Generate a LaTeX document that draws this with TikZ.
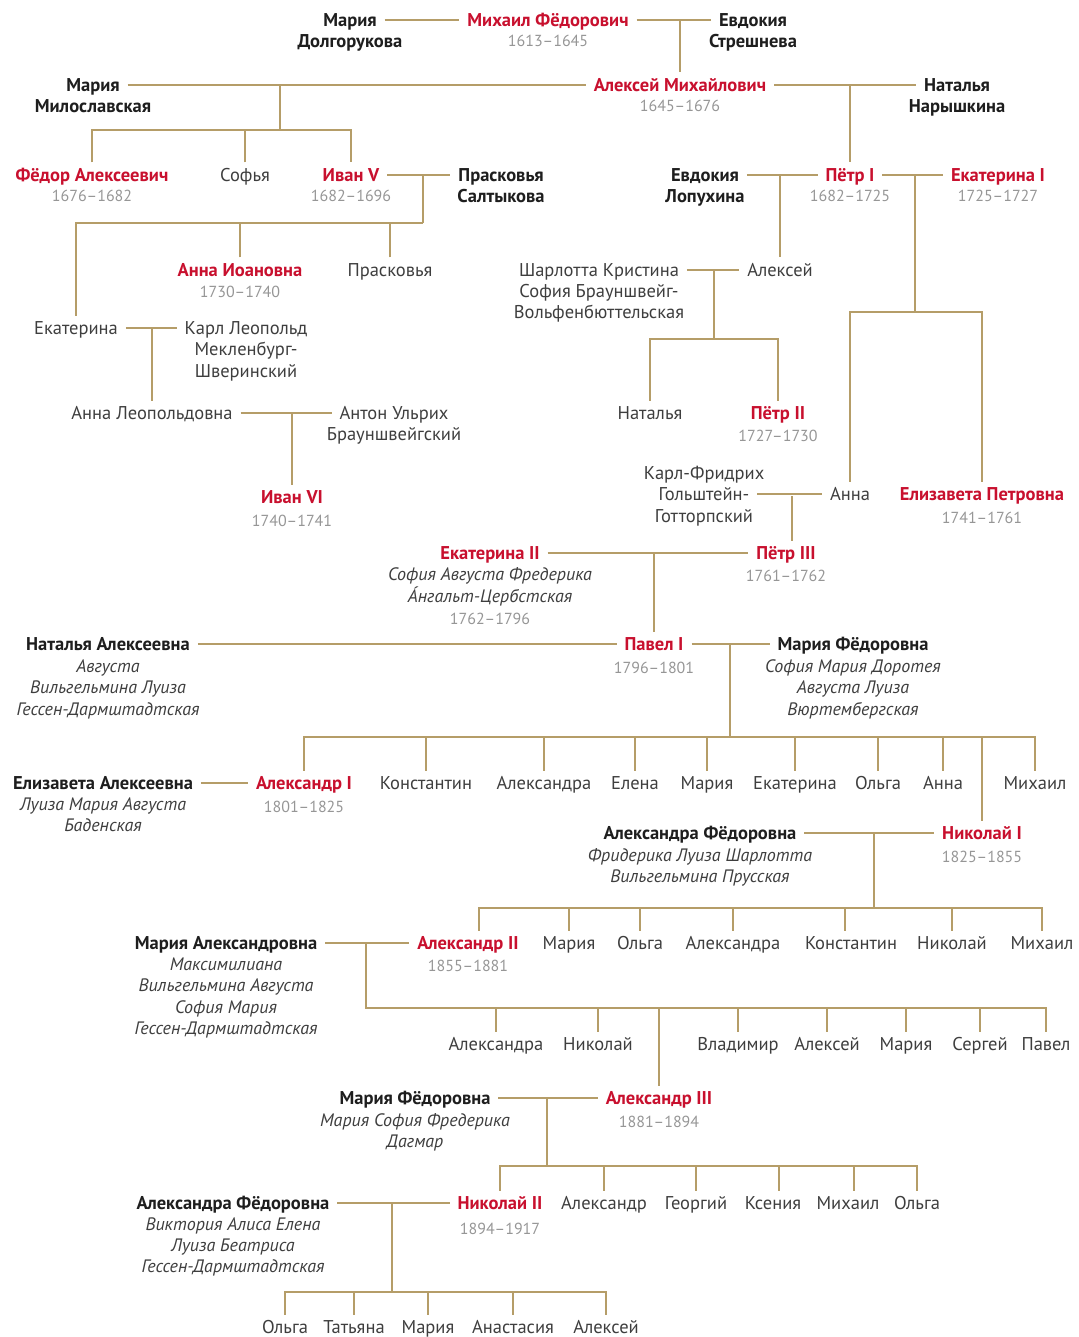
\documentclass[tikz,border=0pt]{standalone}
\usepackage{fontspec}
\setmainfont{PT Sans}
\usepackage{tikz}

\definecolor{tsarred}{RGB}{200,16,46}
\definecolor{gold}{RGB}{181,157,104}
\definecolor{ink}{RGB}{30,30,30}
\definecolor{soft}{RGB}{62,62,62}
\definecolor{years}{RGB}{150,150,150}

\tikzset{
  who/.style={inner xsep=8pt, inner ysep=6pt, text height=13pt, text depth=0pt, outer sep=0pt, text=soft, font=\fontsize{18.5}{21}\selectfont},
  tsar/.style={who, text=tsarred, font=\fontsize{18.5}{21}\selectfont\bfseries},
  spouse/.style={who, text=ink, font=\fontsize{18.5}{21}\selectfont\bfseries},
  kid/.style={who},
  reign/.style={inner sep=0pt, text height=12pt, text depth=0pt, text=years, font=\fontsize{16}{19}\selectfont},
  birth/.style={inner sep=0pt, text height=12pt, text depth=0pt, text=soft, font=\fontsize{18}{21}\selectfont\itshape},
  link/.style={draw=gold, line width=1.6pt}
}

\begin{document}
\begin{tikzpicture}[x=1pt, y=-1pt]
\useasboundingbox (0,0) rectangle (1078,1337);

% Михаил Фёдорович
\node[spouse] (mdol) at (350,20) {Мария};
\node[spouse] (mdol2) at (350,41) {Долгорукова};
\node[tsar] (mfed) at (548,20) {Михаил Фёдорович};
\node[reign] (mfedy) at (548,41) {1613–1645};
\node[spouse] (estr) at (753,20) {Евдокия};
\node[spouse] (estr2) at (753,41) {Стрешнева};

% Алексей Михайлович
\node[spouse] (mmil) at (93,85) {Мария};
\node[spouse] (mmil2) at (93,106) {Милославская};
\node[tsar] (amih) at (680,85) {Алексей Михайлович};
\node[reign] (amihy) at (680,106) {1645–1676};
\node[spouse] (nnar) at (957,85) {Наталья};
\node[spouse] (nnar2) at (957,106) {Нарышкина};

\node[tsar] (fedor) at (92,175) {Фёдор Алексеевич};
\node[reign] (fedory) at (92,196) {1676–1682};
\node[kid] (sofya) at (245,175) {Софья};
\node[tsar] (ivan5) at (351,175) {Иван V};
\node[reign] (ivan5y) at (351,196) {1682–1696};
\node[spouse] (psal) at (501,175) {Прасковья};
\node[spouse] (psal2) at (501,196) {Салтыкова};
\node[spouse] (elop) at (705,175) {Евдокия};
\node[spouse] (elop2) at (705,196) {Лопухина};
\node[tsar] (petr1) at (850,175) {Пётр I};
\node[reign] (petr1y) at (850,196) {1682–1725};
\node[tsar] (ekat1) at (998,175) {Екатерина I};
\node[reign] (ekat1y) at (998,196) {1725–1727};

\node[tsar] (aioan) at (240,270) {Анна Иоановна};
\node[reign] (aioany) at (240,292) {1730–1740};
\node[kid] (prask) at (390,270) {Прасковья};
\node[kid] (shar) at (599,270) {Шарлотта Кристина};
\node[kid] (shar2) at (599,291) {София Брауншвейг-};
\node[kid] (shar3) at (599,312) {Вольфенбюттельская};
\node[kid] (aleks) at (780,270) {Алексей};

\node[kid] (ekat) at (76,328) {Екатерина};
\node[kid] (karl) at (246,328) {Карл Леопольд};
\node[kid] (karl2) at (246,349) {Мекленбург-};
\node[kid] (karl3) at (246,371) {Шверинский};

\node[kid] (aleop) at (152,413) {Анна Леопольдовна};
\node[kid] (anton) at (394,413) {Антон Ульрих};
\node[kid] (anton2) at (394,434) {Брауншвейгский};
\node[kid] (natal) at (650,413) {Наталья};
\node[tsar] (petr2) at (778,413) {Пётр II};
\node[reign] (petr2y) at (778,435) {1727–1730};

\node[tsar] (ivan6) at (292,497) {Иван VI};
\node[reign] (ivan6y) at (292,520) {1740–1741};
\node[kid] (kfr) at (704,473) {Карл-Фридрих};
\node[kid] (kfr2) at (704,494) {Гольштейн-};
\node[kid] (kfr3) at (704,516) {Готторпский};
\node[kid] (anna) at (850,494) {Анна};
\node[tsar] (elizp) at (982,494) {Елизавета Петровна};
\node[reign] (elizpy) at (982,517) {1741–1761};

% Екатерина II и Пётр III
\node[tsar] (ekat2) at (490,553) {Екатерина II};
\node[birth] (ekat2b) at (490,574) {София Августа Фредерика};
\node[birth] (ekat2c) at (490,596) {А́нгальт-Цербстская};
\node[reign] (ekat2y) at (490,618) {1762–1796};
\node[tsar] (petr3) at (786,553) {Пётр III};
\node[reign] (petr3y) at (786,575) {1761–1762};

% Павел I
\node[spouse] (nalek) at (108,644) {Наталья Алексеевна};
\node[birth] (nalekb) at (108,666) {Августа};
\node[birth] (nalekc) at (108,687) {Вильгельмина Луиза};
\node[birth] (nalekd) at (108,709) {Гессен-Дармштадтская};
\node[tsar] (pavel) at (654,644) {Павел I};
\node[reign] (pavely) at (654,667) {1796–1801};
\node[spouse] (mfed1) at (853,644) {Мария Фёдоровна};
\node[birth] (mfed1b) at (853,666) {София Мария Доротея};
\node[birth] (mfed1c) at (853,687) {Августа Луиза};
\node[birth] (mfed1d) at (853,709) {Вюртембергская};

\node[spouse] (elal) at (103,783) {Елизавета Алексеевна};
\node[birth] (elalb) at (103,804) {Луиза Мария Августа};
\node[birth] (elalc) at (103,825) {Баденская};
\node[tsar] (alex1) at (304,783) {Александр I};
\node[reign] (alex1y) at (304,806) {1801–1825};
\node[kid] (konst) at (426,783) {Константин};
\node[kid] (alra) at (544,783) {Александра};
\node[kid] (elena) at (635,783) {Елена};
\node[kid] (mariya) at (707,783) {Мария};
\node[kid] (ekat3) at (795,783) {Екатерина};
\node[kid] (olga) at (878,783) {Ольга};
\node[kid] (anna2) at (943,783) {Анна};
\node[kid] (mih) at (1035,783) {Михаил};

% Николай I
\node[spouse] (afed) at (700,833) {Александра Фёдоровна};
\node[birth] (afedb) at (700,855) {Фридерика Луиза Шарлотта};
\node[birth] (afedc) at (700,876) {Вильгельмина Прусская};
\node[tsar] (nik1) at (982,833) {Николай I};
\node[reign] (nik1y) at (982,856) {1825–1855};

\node[spouse] (malex) at (226,943) {Мария Александровна};
\node[birth] (malexb) at (226,964) {Максимилиана};
\node[birth] (malexc) at (226,985) {Вильгельмина Августа};
\node[birth] (malexd) at (226,1007) {София Мария};
\node[birth] (malexe) at (226,1028) {Гессен-Дармштадтская};
\node[tsar] (alex2) at (468,943) {Александр II};
\node[reign] (alex2y) at (468,965) {1855–1881};
\node[kid] (mariya2) at (569,943) {Мария};
\node[kid] (olga2) at (640,943) {Ольга};
\node[kid] (alra2) at (733,943) {Александра};
\node[kid] (konst2) at (851,943) {Константин};
\node[kid] (nikol) at (952,943) {Николай};
\node[kid] (mih2) at (1042,943) {Михаил};

% Александр II
\node[kid] (alra3) at (496,1044) {Александра};
\node[kid] (nikol2) at (598,1044) {Николай};
\node[kid] (vlad) at (738,1044) {Владимир};
\node[kid] (aleks2) at (827,1044) {Алексей};
\node[kid] (mariya3) at (906,1044) {Мария};
\node[kid] (serg) at (980,1044) {Сергей};
\node[kid] (pavel2) at (1046,1044) {Павел};

% Александр III
\node[spouse] (mfed2) at (415,1098) {Мария Фёдоровна};
\node[birth] (mfed2b) at (415,1120) {Мария София Фредерика};
\node[birth] (mfed2c) at (415,1141) {Дагмар};
\node[tsar] (alex3) at (659,1098) {Александр III};
\node[reign] (alex3y) at (659,1121) {1881–1894};

\node[spouse] (afed2) at (233,1203) {Александра Фёдоровна};
\node[birth] (afed2b) at (233,1224) {Виктория Алиса Елена};
\node[birth] (afed2c) at (233,1245) {Луиза Беатриса};
\node[birth] (afed2d) at (233,1266) {Гессен-Дармштадтская};
\node[tsar] (nik2) at (500,1203) {Николай II};
\node[reign] (nik2y) at (500,1228) {1894–1917};
\node[kid] (alexr) at (604,1203) {Александр};
\node[kid] (georg) at (696,1203) {Георгий};
\node[kid] (ksen) at (773,1203) {Ксения};
\node[kid] (mih3) at (848,1203) {Михаил};
\node[kid] (olga3) at (917,1203) {Ольга};

% Николай II
\node[kid] (olga4) at (285,1327) {Ольга};
\node[kid] (tat) at (354,1327) {Татьяна};
\node[kid] (mariya4) at (428,1327) {Мария};
\node[kid] (anast) at (513,1327) {Анастасия};
\node[kid] (alexei) at (606,1327) {Алексей};

% junctions
\coordinate (amilk) at (280,130);
\coordinate (saltk) at (423,223);
\coordinate (ekatk) at (915,312);
\coordinate (shark) at (714,339);
\coordinate (holst) at (792,496);
\coordinate (pavk) at (730,737);
\coordinate (nik1k) at (874,908);
\coordinate (alex2k) at (366,1008);
\coordinate (alex3k) at (547,1166);
\coordinate (nik2k) at (392,1292);

\draw[link] (mdol) -- (mfed);
\draw[link] (mfed) -- (estr);
\draw[link] (amih.north |- mfed) -- (amih.north);

\draw[link] (mmil) -- (amih);
\draw[link] (amih) -- (nnar);
\draw[link] (amilk |- amih) -- (amilk);
\draw[link] (fedor.north) |- (amilk) -| (ivan5.north);
\draw[link] (sofya.north) -- (sofya.north |- amilk);
\draw[link] (petr1.north |- amih) -- (petr1.north);

\draw[link] (ivan5) -- (psal);
\draw[link] (saltk |- ivan5) -- (saltk);
\draw[link] (ekat.north) |- (saltk);
\draw[link] (aioan.north) -- (aioan.north |- saltk);
\draw[link] (prask.north) -- (prask.north |- saltk);

\draw[link] (elop) -- (petr1);
\draw[link] (petr1) -- (ekat1);
\draw[link] (aleks.north |- petr1) -- (aleks.north);
\draw[link] (ekatk |- petr1) -- (ekatk);
\draw[link] (anna.north) |- (ekatk) -| (elizp.north);

\draw[link] (shar) -- (aleks);
\draw[link] (shark |- shar) -- (shark);
\draw[link] (natal.north) |- (shark) -| (petr2.north);

\draw[link] (ekat) -- (karl);
\draw[link] (aleop.north |- ekat) -- (aleop.north);
\draw[link] (aleop) -- (anton);
\draw[link] (ivan6.north |- aleop) -- (ivan6.north);

\draw[link] (kfr2) -- (anna);
\draw[link] (holst) -- (holst |- petr3.north);

\draw[link] (ekat2) -- (petr3);
\draw[link] (pavel.north |- ekat2) -- (pavel.north);

\draw[link] (nalek) -- (pavel);
\draw[link] (pavel) -- (mfed1);
\draw[link] (pavk |- pavel) -- (pavk);
\draw[link] (alex1.north) |- (pavk) -| (mih.north);
\draw[link] (konst.north) -- (konst.north |- pavk);
\draw[link] (alra.north) -- (alra.north |- pavk);
\draw[link] (elena.north) -- (elena.north |- pavk);
\draw[link] (mariya.north) -- (mariya.north |- pavk);
\draw[link] (ekat3.north) -- (ekat3.north |- pavk);
\draw[link] (olga.north) -- (olga.north |- pavk);
\draw[link] (anna2.north) -- (anna2.north |- pavk);
\draw[link] (nik1.north) -- (nik1.north |- pavk);

\draw[link] (elal) -- (alex1);

\draw[link] (afed) -- (nik1);
\draw[link] (nik1k |- nik1) -- (nik1k);
\draw[link] ([xshift=11pt]alex2.north) |- (nik1k) -| (mih2.north);
\draw[link] (mariya2.north) -- (mariya2.north |- nik1k);
\draw[link] (olga2.north) -- (olga2.north |- nik1k);
\draw[link] (alra2.north) -- (alra2.north |- nik1k);
\draw[link] ([xshift=-6pt]konst2.north) -- ([xshift=-6pt]konst2.north |- nik1k);
\draw[link] (nikol.north) -- (nikol.north |- nik1k);

\draw[link] (malex) -- (alex2);
\draw[link] (alex2k |- alex2) -- (alex2k) -| (pavel2.north);
\draw[link] (alra3.north) -- (alra3.north |- alex2k);
\draw[link] (nikol2.north) -- (nikol2.north |- alex2k);
\draw[link] (alex3.north) -- (alex3.north |- alex2k);
\draw[link] (vlad.north) -- (vlad.north |- alex2k);
\draw[link] (aleks2.north) -- (aleks2.north |- alex2k);
\draw[link] (mariya3.north) -- (mariya3.north |- alex2k);
\draw[link] (serg.north) -- (serg.north |- alex2k);

\draw[link] (mfed2) -- (alex3);
\draw[link] (alex3k |- alex3) -- (alex3k);
\draw[link] (nik2.north) |- (alex3k) -| (olga3.north);
\draw[link] (alexr.north) -- (alexr.north |- alex3k);
\draw[link] (georg.north) -- (georg.north |- alex3k);
\draw[link] ([xshift=6pt]ksen.north) -- ([xshift=6pt]ksen.north |- alex3k);
\draw[link] ([xshift=6pt]mih3.north) -- ([xshift=6pt]mih3.north |- alex3k);

\draw[link] (afed2) -- (nik2);
\draw[link] (nik2k |- nik2) -- (nik2k);
\draw[link] (olga4.north) |- (nik2k) -| (alexei.north);
\draw[link] (tat.north) -- (tat.north |- nik2k);
\draw[link] (mariya4.north) -- (mariya4.north |- nik2k);
\draw[link] (anast.north) -- (anast.north |- nik2k);
\end{tikzpicture}
\end{document}
